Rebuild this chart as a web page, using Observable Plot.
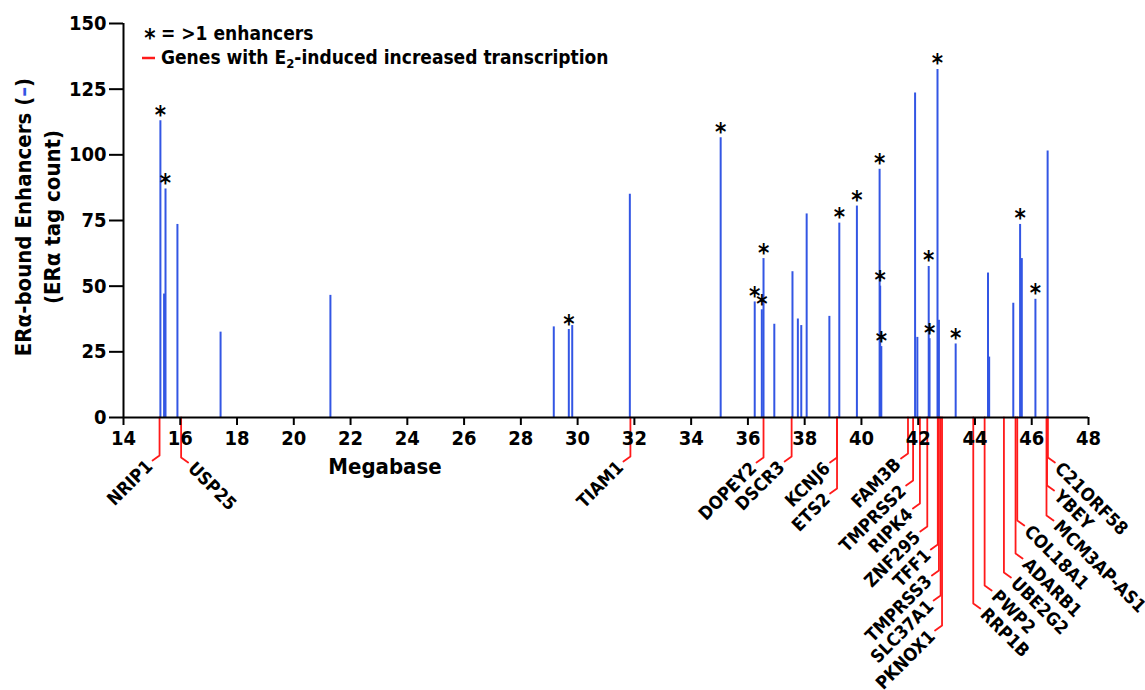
<!DOCTYPE html>
<html>
<head>
<meta charset="utf-8">
<script src="https://cdn.jsdelivr.net/npm/d3@7"></script>
<script src="https://cdn.jsdelivr.net/npm/@observablehq/plot@0.6"></script>
<style>
  body { margin: 0; background: #fff; }
  svg text { font-family: 'Liberation Sans Narrow', 'DejaVu Sans Condensed', sans-serif; font-weight: bold; }
</style>
</head>
<body>
<div id="chart"></div>
<script>
// ---------- data ----------
const enhancerMb = [15.30, 15.43, 15.48, 15.90, 17.42, 21.29, 29.16, 29.69, 29.81, 31.84,
  35.04, 36.24, 36.49, 36.55, 36.93, 37.57, 37.76, 37.88, 38.07, 38.87,
  39.22, 39.84, 40.64, 40.66, 40.70, 41.89, 41.97, 42.37, 42.40, 42.68,
  42.73, 43.32, 44.46, 44.50, 45.35, 45.59, 45.65, 46.13, 46.56];
const enhancerTags = [113, 47, 87, 73.5, 32.5, 46.5, 34.5, 33.5, 35, 85,
  106.5, 44, 41, 60.5, 35.5, 55.5, 37.5, 35, 77.5, 38.5,
  74, 80.5, 94.5, 50, 27, 123.5, 30.5, 57.5, 30, 132.5,
  37, 28, 55, 23, 43.5, 73.5, 60.5, 45, 101.5];
const multipleEnhancers = [1, 0, 1, 0, 0, 0, 0, 1, 0, 0,
  1, 1, 1, 1, 0, 0, 0, 0, 0, 0,
  1, 1, 1, 1, 1, 0, 0, 1, 1, 1,
  0, 1, 0, 0, 0, 1, 0, 1, 0];

const geneNames = ["NRIP1", "USP25", "TIAM1", "DOPEY2", "DSCR3", "KCNJ6", "ETS2",
  "FAM3B", "TMPRSS2", "RIPK4", "ZNF295", "TFF1", "TMPRSS3", "SLC37A1", "PKNOX1",
  "RRP1B", "PWP2", "UBE2G2", "ADARB1", "COL18A1", "MCM3AP-AS1", "YBEY", "C21ORF58"];
const geneMb = [15.27, 16.03, 31.86, 36.55, 37.54, 39.14, 39.14,
  41.64, 41.82, 42.06, 42.32, 42.69, 42.73, 42.79, 42.84,
  43.94, 44.34, 45.02, 45.43, 45.49, 46.52, 46.54, 46.57];

const xTicks = [14, 16, 18, 20, 22, 24, 26, 28, 30, 32, 34, 36, 38, 40, 42, 44, 46, 48];
const yTicks = [0, 25, 50, 75, 100, 125, 150];

// ---------- label layout (annotation placement, px) ----------
const labelSide = ["L", "R", "L", "L", "L", "L", "L",
  "L", "L", "L", "L", "L", "L", "L", "L",
  "R", "R", "R", "R", "R", "R", "R", "R"];
const leaderDrop = [38, 40, 39, 40, 39, 40, 71,
  36, 63, 86, 109, 127, 153, 178, 208,
  186, 168, 155, 136, 103, 98, 68, 40];

// ---------- geometry ----------
const W = 1145, H = 690;
const mL = 123, mR = 57, mT = 23, mB = 273;
const xDom = [14, 48], yDom = [0, 150];
const pxPerMb = (W - mL - mR) / (xDom[1] - xDom[0]);
const pxPerTag = (H - mT - mB) / (yDom[1] - yDom[0]);

const enh = enhancerMb.map((mb, i) => ({mb, tags: enhancerTags[i], multi: multipleEnhancers[i] === 1}));

const diagDx = 7, diagDy = 5;
const genePath = [];
const geneLabels = [];
geneNames.forEach((name, i) => {
  const s = labelSide[i] === "L" ? -1 : 1;
  const d = leaderDrop[i];
  const x0 = geneMb[i];
  const x1 = x0 + s * diagDx / pxPerMb;
  genePath.push({name, mb: x0, v: 0});
  genePath.push({name, mb: x0, v: -d / pxPerTag});
  genePath.push({name, mb: x1, v: -(d + diagDy) / pxPerTag});
  geneLabels.push({name, side: labelSide[i], mb: x1, v: -(d + diagDy) / pxPerTag});
});

const blue = "#3356e4";
const red = "#ff1a1a";
const font = "'Liberation Sans Narrow', 'DejaVu Sans Condensed', sans-serif";

const plot = Plot.plot({
  width: W, height: H,
  marginLeft: mL, marginRight: mR, marginTop: mT, marginBottom: mB,
  x: {domain: xDom},
  y: {domain: yDom},
  style: {fontFamily: font, fontWeight: "bold", fontSize: "20px", color: "#000", background: "#fff", overflow: "visible"},
  marks: [
    Plot.ruleX(enh, {x: "mb", y1: 0, y2: "tags", stroke: blue, strokeWidth: 2}),
    Plot.text(enh.filter(d => d.multi), {x: "mb", y: "tags", text: () => "*", fontSize: 24, lineAnchor: "bottom", dy: 2, fill: "#000"}),
    Plot.line(genePath, {x: "mb", y: "v", z: "name", stroke: red, strokeWidth: 1.8, curve: "linear"}),
    Plot.text(geneLabels.filter(d => d.side === "L"), {x: "mb", y: "v", text: "name", rotate: -45, textAnchor: "end", lineAnchor: "middle", dx: -3, dy: 3, fontSize: 18, fill: "#000"}),
    Plot.text(geneLabels.filter(d => d.side === "R"), {x: "mb", y: "v", text: "name", rotate: 45, textAnchor: "start", lineAnchor: "middle", dx: 3, dy: 3, fontSize: 18, fill: "#000"}),
    Plot.ruleY([0], {stroke: "#000", strokeWidth: 2}),
    Plot.ruleX([xDom[0]], {y1: yDom[0], y2: yDom[1], stroke: "#000", strokeWidth: 2}),
    Plot.axisX({ticks: xTicks, tickSize: 8, tickPadding: 5, tickFormat: d => String(d), label: null, strokeWidth: 2, fontSize: 20}),
    Plot.axisY({ticks: yTicks, tickSize: 14, tickPadding: 3, tickFormat: d => String(d), label: null, strokeWidth: 2, fontSize: 20})
  ]
});

document.getElementById("chart").appendChild(plot);

const svg = d3.select(plot);
// x-axis title
svg.append("text").attr("x", 385).attr("y", 474).attr("text-anchor", "middle")
  .attr("font-size", 22).attr("fill", "#000").text("Megabase");

// y-axis title (two lines)
const t1 = svg.append("text").attr("transform", "translate(31,217) rotate(-90)")
  .attr("text-anchor", "middle").attr("font-size", 22).attr("fill", "#000");
t1.append("tspan").text("ERα-bound Enhancers (");
t1.append("tspan").attr("fill", blue).text("–");
t1.append("tspan").text(")");
svg.append("text").attr("transform", "translate(60,217) rotate(-90)")
  .attr("text-anchor", "middle").attr("font-size", 22).attr("fill", "#000")
  .text("(ERα tag count)");

// legend
svg.append("text").attr("x", 150).attr("y", 46).attr("text-anchor", "middle")
  .attr("font-size", 24).attr("fill", "#000").text("*");
svg.append("text").attr("x", 161).attr("y", 40).attr("text-anchor", "start")
  .attr("font-size", 19).attr("fill", "#000").text("= >1 enhancers");
svg.append("line").attr("x1", 142).attr("x2", 155).attr("y1", 58).attr("y2", 58)
  .attr("stroke", red).attr("stroke-width", 2.5);
const lg = svg.append("text").attr("x", 161).attr("y", 64).attr("text-anchor", "start")
  .attr("font-size", 19).attr("fill", "#000");
lg.append("tspan").text("Genes with E");
lg.append("tspan").attr("font-size", 13).attr("dy", 4).text("2");
lg.append("tspan").attr("dy", -4).text("-induced increased transcription");
</script>
</body>
</html>
